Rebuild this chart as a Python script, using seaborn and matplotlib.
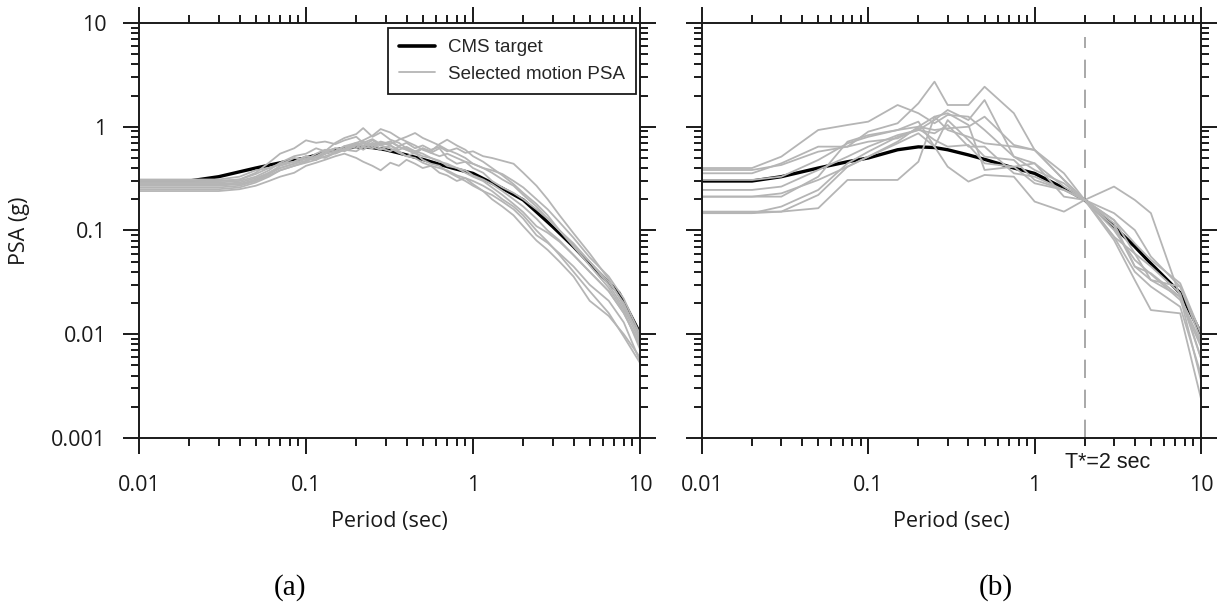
import numpy as np
import pandas as pd
import matplotlib
matplotlib.use('Agg')
import matplotlib.pyplot as plt
import seaborn as sns
from matplotlib import ticker
from matplotlib.lines import Line2D
from matplotlib.transforms import blended_transform_factory

# CMS target spectrum (same in both panels)
period_cms = [0.01, 0.02, 0.03, 0.05, 0.075, 0.1, 0.15, 0.2, 0.25, 0.3, 0.4, 0.5,
              0.75, 1.0, 1.5, 2.0, 3.0, 4.0, 5.0, 7.5, 10.0]
cms_target = [0.30, 0.30, 0.33, 0.40, 0.46, 0.50, 0.60, 0.64, 0.63, 0.60, 0.535, 0.485,
              0.40, 0.355, 0.255, 0.197, 0.109, 0.07, 0.048, 0.025, 0.0102]

# (a) selected motions, fine period grid
period_a = [0.01, 0.02, 0.03, 0.04, 0.05, 0.06, 0.07, 0.085, 0.1, 0.115, 0.13, 0.15, 0.17,
            0.2, 0.22, 0.25, 0.28, 0.32, 0.36, 0.4, 0.45, 0.5, 0.56, 0.63, 0.7, 0.8, 0.9,
            1.0, 1.15, 1.3, 1.5, 1.75, 2.0, 2.4, 2.8, 3.3, 4.0, 5.0, 6.5, 8.0, 10.0]
sel_a1 = [.30, .30, .30, .31, .35, .40, .44, .46, .52, .50, .58, .62, .60, .68, .64, .70, .66, .72, .65, .70,
          .62, .66, .60, .64, .58, .62, .56, .58, .52, .50, .47, .44, .36, .27, .20, .14, .094, .06, .034, .019, .0095]
sel_a2 = [.29, .29, .29, .30, .33, .38, .45, .52, .55, .62, .58, .70, .78, .85, .97, .80, .88, .75, .70, .62,
          .58, .55, .50, .47, .42, .40, .36, .33, .30, .26, .22, .18, .15, .11, .095, .078, .058, .040, .026, .016, .0078]
sel_a3 = [.27, .27, .27, .28, .30, .36, .40, .44, .50, .48, .55, .58, .65, .70, .74, .82, .95, .88, .78, .72,
          .66, .60, .56, .62, .50, .44, .46, .40, .36, .30, .26, .23, .20, .16, .13, .10, .075, .050, .030, .018, .0085]
sel_a4 = [.24, .24, .24, .25, .27, .30, .33, .36, .42, .45, .48, .52, .55, .50, .46, .42, .38, .45, .42, .48,
          .44, .40, .42, .36, .34, .30, .32, .28, .24, .22, .19, .16, .13, .09, .076, .06, .045, .030, .021, .013, .0055]
sel_a5 = [.31, .31, .31, .33, .38, .40, .43, .50, .48, .55, .60, .58, .65, .62, .70, .66, .72, .68, .75, .80,
          .87, .78, .72, .66, .60, .55, .50, .44, .40, .36, .31, .27, .22, .17, .13, .10, .07, .046, .028, .017, .0072]
sel_a6 = [.28, .28, .28, .29, .32, .36, .42, .46, .52, .48, .56, .62, .58, .66, .60, .68, .62, .58, .64, .60,
          .55, .62, .58, .68, .75, .66, .60, .52, .46, .40, .34, .28, .23, .18, .14, .10, .072, .050, .032, .020, .0090]
sel_a7 = [.26, .26, .26, .27, .30, .34, .38, .42, .46, .52, .50, .56, .62, .70, .66, .74, .66, .62, .56, .52,
          .50, .45, .42, .40, .38, .34, .32, .30, .27, .24, .20, .17, .14, .10, .078, .058, .040, .026, .016, .0095, .0053]
sel_a8 = [.30, .30, .30, .31, .36, .45, .55, .62, .74, .70, .72, .68, .74, .80, .70, .76, .68, .72, .64, .60,
          .56, .52, .50, .46, .44, .40, .38, .34, .31, .28, .24, .20, .17, .13, .10, .080, .058, .040, .026, .016, .0080]
sel_a9 = [.25, .25, .25, .26, .29, .33, .38, .42, .45, .48, .52, .56, .60, .58, .64, .62, .70, .66, .60, .64,
          .58, .62, .56, .52, .55, .50, .46, .44, .40, .38, .35, .30, .26, .20, .16, .12, .085, .055, .036, .022, .010]
sel_a10 = [.28, .28, .28, .28, .31, .35, .40, .44, .47, .52, .58, .55, .60, .66, .72, .64, .60, .66, .58, .52,
           .56, .48, .44, .42, .37, .33, .30, .27, .24, .20, .17, .14, .11, .080, .065, .050, .036, .021, .015, .010, .0060]

# (b) selected motions, scaled to match at T* = 2 s
period_b = period_cms
sel_b1 = [0.40, 0.40, 0.515, 0.93, 1.04, 1.12, 1.62, 1.35, 1.08, 1.30, 1.25, 0.93, 0.515, 0.383, 0.285,
          0.197, 0.265, 0.197, 0.147, 0.023, 0.0082]
sel_b2 = [0.356, 0.356, 0.444, 0.643, 0.643, 0.897, 1.08, 1.68, 2.72, 1.62, 1.62, 2.43, 1.35, 0.597, 0.307,
          0.197, 0.101, 0.052, 0.038, 0.0214, 0.0076]
sel_b3 = [0.307, 0.307, 0.33, 0.478, 0.692, 0.80, 0.93, 1.00, 1.25, 0.93, 0.80, 0.692, 0.643, 0.597, 0.307,
          0.197, 0.126, 0.060, 0.0333, 0.0288, 0.0102]
sel_b4 = [0.212, 0.212, 0.212, 0.33, 0.718, 0.83, 0.93, 1.12, 0.643, 1.16, 0.745, 0.515, 0.478, 0.307, 0.246,
          0.197, 0.109, 0.045, 0.0387, 0.023, 0.0059]
sel_b5 = [0.152, 0.152, 0.152, 0.164, 0.307, 0.307, 0.307, 0.46, 1.25, 1.35, 1.04, 0.383, 0.412, 0.444, 0.212,
          0.197, 0.087, 0.040, 0.0288, 0.0184, 0.0041]
sel_b6 = [0.147, 0.147, 0.152, 0.220, 0.412, 0.515, 0.692, 0.864, 0.643, 0.412, 0.296, 0.343, 0.33, 0.19, 0.152,
          0.197, 0.081, 0.0333, 0.0171, 0.0159, 0.0024]
sel_b7 = [0.246, 0.246, 0.265, 0.383, 0.515, 0.643, 0.83, 0.93, 1.16, 1.45, 1.16, 1.81, 0.515, 0.444, 0.265,
          0.197, 0.087, 0.060, 0.045, 0.0248, 0.0059]
sel_b8 = [0.212, 0.212, 0.228, 0.307, 0.412, 0.515, 0.718, 1.00, 0.93, 0.965, 1.00, 1.25, 0.667, 0.597, 0.356,
          0.197, 0.126, 0.075, 0.052, 0.031, 0.0102]
sel_b9 = [0.383, 0.383, 0.428, 0.575, 0.643, 0.718, 0.773, 0.965, 0.745, 0.643, 0.667, 0.444, 0.412, 0.285, 0.246,
          0.197, 0.147, 0.101, 0.056, 0.0288, 0.0088]
sel_b10 = [0.147, 0.147, 0.17, 0.246, 0.444, 0.575, 0.80, 0.93, 0.864, 1.04, 0.643, 0.643, 0.356, 0.33, 0.246,
           0.197, 0.117, 0.045, 0.0333, 0.023, 0.0036]

sel_a = [sel_a1, sel_a2, sel_a3, sel_a4, sel_a5, sel_a6, sel_a7, sel_a8, sel_a9, sel_a10]
sel_b = [sel_b1, sel_b2, sel_b3, sel_b4, sel_b5, sel_b6, sel_b7, sel_b8, sel_b9, sel_b10]

x_ticks = [0.01, 0.1, 1, 10]
y_ticks = [0.001, 0.01, 0.1, 1, 10]

GRAY = '#b5b5b5'
INK = '#1a1a1a'
SANS = ['Open Sans', 'DejaVu Sans']
ARIAL = ['Liberation Sans', 'DejaVu Sans']

sns.set_theme(style='white')
plt.rcParams['font.family'] = SANS
plt.rcParams['axes.edgecolor'] = INK
plt.rcParams['axes.linewidth'] = 1.4


def long_form(periods, records):
    frames = [pd.DataFrame({'period': periods, 'psa': rec, 'motion': i}) for i, rec in enumerate(records)]
    return pd.concat(frames, ignore_index=True)


def style_axis(ax, show_ylabels):
    ax.set_xscale('log')
    ax.set_yscale('log')
    ax.set_xlim(0.01, 10)
    ax.set_ylim(0.001, 10)
    ax.set_xticks(x_ticks)
    ax.set_yticks(y_ticks)
    fmt = ticker.FuncFormatter(lambda v, p: f'{v:g}')
    ax.xaxis.set_major_formatter(fmt)
    ax.yaxis.set_major_formatter(fmt)
    ax.xaxis.set_minor_locator(ticker.LogLocator(base=10, subs=np.arange(2, 10), numticks=20))
    ax.yaxis.set_minor_locator(ticker.LogLocator(base=10, subs=np.arange(2, 10), numticks=20))
    ax.xaxis.set_minor_formatter(ticker.NullFormatter())
    ax.yaxis.set_minor_formatter(ticker.NullFormatter())
    ax.tick_params(which='both', direction='out', top=True, right=True, left=True, bottom=True,
                   color=INK, width=1.4, labelsize=15.5, labelcolor=INK)
    ax.tick_params(which='major', length=11.5)
    ax.tick_params(which='minor', length=5.5)
    ax.tick_params(axis='x', which='major', pad=15)
    ax.tick_params(axis='y', which='major', pad=12)
    ax.tick_params(labelleft=show_ylabels, labelright=False, labeltop=False)
    ax.set_xlabel('Period (sec)', fontsize=15.5, color=INK)
    ax.xaxis.set_label_coords(0.5, -0.176)
    ax.set_ylabel('')
    for s in ax.spines.values():
        s.set_visible(True)


fig = plt.figure(figsize=(12.3, 6.08), dpi=100)
ax_a = fig.add_axes([0.1130, 0.2796, 0.4073, 0.6826])
ax_b = fig.add_axes([0.5707, 0.2796, 0.4057, 0.6826])

for ax, periods, records in [(ax_a, period_a, sel_a), (ax_b, period_b, sel_b)]:
    ax.set_xscale('log')
    ax.set_yscale('log')
    sns.lineplot(x=period_cms, y=cms_target, color='black', lw=2.4, ax=ax, sort=False)
    sns.lineplot(data=long_form(periods, records), x='period', y='psa', units='motion',
                 estimator=None, color=GRAY, lw=1.3, ax=ax, sort=False, legend=False)

style_axis(ax_a, True)
style_axis(ax_b, False)

ax_a.set_ylabel('PSA (g)', fontsize=15.5, color=INK)
ax_a.yaxis.set_label_coords(-0.218, 0.5)

handles = [Line2D([], [], color='black', lw=2.6), Line2D([], [], color=GRAY, lw=1.3)]
leg = ax_a.legend(handles, ['CMS target', 'Selected motion PSA'], loc='upper right',
                  bbox_to_anchor=(0.992, 0.988), frameon=True, fancybox=False, framealpha=1,
                  edgecolor=INK, prop={'family': ARIAL, 'size': 13.5}, handlelength=1.9,
                  handletextpad=0.7, borderpad=0.6, labelspacing=0.5, borderaxespad=0)
leg.get_frame().set_linewidth(1.3)

# conditioning period marker
ax_b.axvline(2.0, ymin=0, ymax=0.966, color='#9a9a9a', lw=1.2, dashes=(11, 7))
trans = blended_transform_factory(ax_b.transData, ax_b.transAxes)
ax_b.text(1.52, -0.06, 'T*=2 sec', transform=trans, ha='left', va='center',
          family=ARIAL, fontsize=15.5, color=INK)

fig.text(290 / 1230, 1 - 588 / 608, '(a)', ha='center', va='center',
         family=['Liberation Serif', 'DejaVu Serif'], fontsize=21, color='black')
fig.text(996 / 1230, 1 - 588 / 608, '(b)', ha='center', va='center',
         family=['Liberation Serif', 'DejaVu Serif'], fontsize=21, color='black')

fig.savefig('out.png', dpi=100, facecolor='white')
